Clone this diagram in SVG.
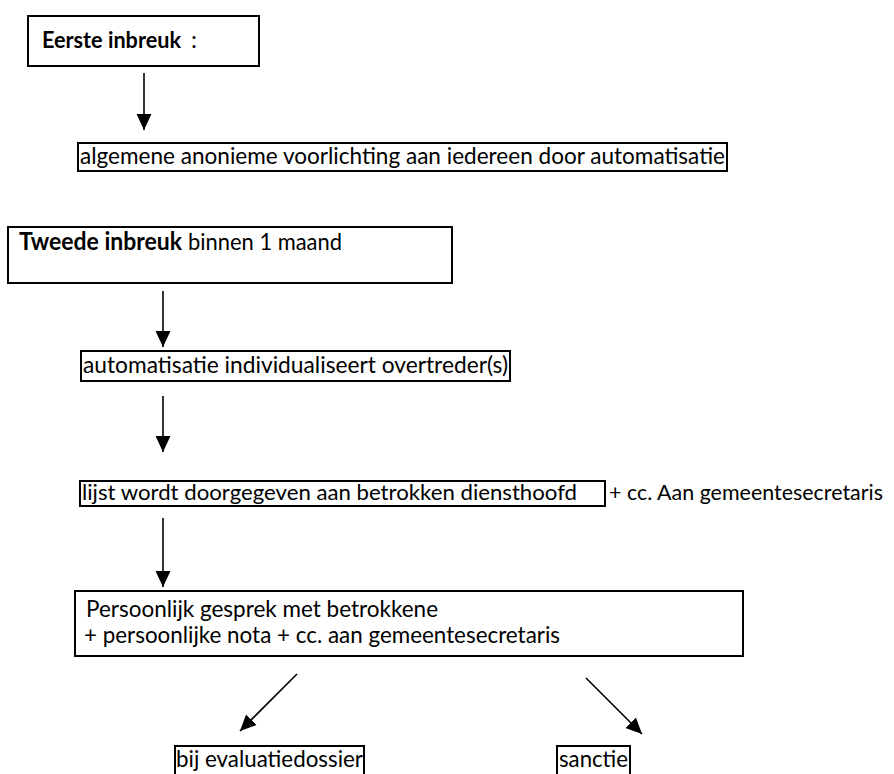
<svg xmlns="http://www.w3.org/2000/svg" width="894" height="774" viewBox="0 0 894 774">
<defs>
<style>
.box{fill:#fff;stroke:#000;stroke-width:2}
.t{font-family:Lato,"Open Sans","Liberation Sans",sans-serif;font-size:24px;fill:#000}
.b{font-weight:bold}
.ln{stroke:#000;stroke-width:1.6;fill:none}
</style>
<marker id="ah" markerWidth="16" markerHeight="16" refX="15" refY="7" orient="auto" markerUnits="userSpaceOnUse" viewBox="0 0 15 14">
<path d="M0,0 L15,7 L0,14 Z" fill="#000"/>
</marker>
</defs>
<rect width="894" height="774" fill="#fff"/>
<g id="connectors">
<line class="ln" x1="144" y1="73" x2="144" y2="130" marker-end="url(#ah)"/>
<line class="ln" x1="163" y1="291" x2="163" y2="347" marker-end="url(#ah)"/>
<line class="ln" x1="163" y1="396" x2="163" y2="452" marker-end="url(#ah)"/>
<line class="ln" x1="163" y1="518" x2="163" y2="587" marker-end="url(#ah)"/>
<line class="ln" x1="297" y1="674" x2="240" y2="731" marker-end="url(#ah)"/>
<line class="ln" x1="586" y1="678" x2="642" y2="734" marker-end="url(#ah)"/>
</g>
<g id="n1">
<rect class="box" x="28" y="16" width="231" height="50"/>
<text class="t b" x="42" y="48" textLength="139" lengthAdjust="spacingAndGlyphs" style="font-size:22px">Eerste inbreuk</text>
<text class="t" x="191" y="48">:</text>
</g>
<g id="n2">
<rect class="box" x="78" y="143" width="649" height="28"/>
<text class="t" x="80" y="164" textLength="645" lengthAdjust="spacingAndGlyphs">algemene anonieme voorlichting aan iedereen door automatisatie</text>
</g>
<g id="n3">
<rect class="box" x="8" y="227" width="444" height="56"/>
<text class="t b" x="19" y="250" textLength="163" lengthAdjust="spacingAndGlyphs">Tweede inbreuk</text>
<text class="t" x="188" y="250" textLength="154" lengthAdjust="spacingAndGlyphs">binnen 1 maand</text>
</g>
<g id="n4">
<rect class="box" x="81" y="351" width="429" height="30"/>
<text class="t" x="83" y="373" textLength="425" lengthAdjust="spacingAndGlyphs">automatisatie individualiseert overtreder(s)</text>
</g>
<g id="n5">
<rect class="box" x="80" y="481" width="525" height="25"/>
<text class="t" x="82" y="500" textLength="495" lengthAdjust="spacingAndGlyphs" style="font-size:22px">lijst wordt doorgegeven aan betrokken diensthoofd</text>
<text class="t" x="609" y="500" textLength="274" lengthAdjust="spacingAndGlyphs" style="font-size:22px">+ cc. Aan gemeentesecretaris</text>
</g>
<g id="n6">
<rect class="box" x="75" y="591" width="668" height="65"/>
<text class="t" x="86" y="617" textLength="352" lengthAdjust="spacingAndGlyphs">Persoonlijk gesprek met betrokkene</text>
<text class="t" x="84" y="643" textLength="476" lengthAdjust="spacingAndGlyphs">+ persoonlijke nota + cc. aan gemeentesecretaris</text>
</g>
<g id="n7">
<rect class="box" x="175" y="746" width="189" height="40"/>
<text class="t" x="176" y="767" textLength="187" lengthAdjust="spacingAndGlyphs">bij evaluatiedossier</text>
</g>
<g id="n8">
<rect class="box" x="557" y="746" width="73" height="40"/>
<text class="t" x="559" y="767" textLength="69" lengthAdjust="spacingAndGlyphs">sanctie</text>
</g>
</svg>
